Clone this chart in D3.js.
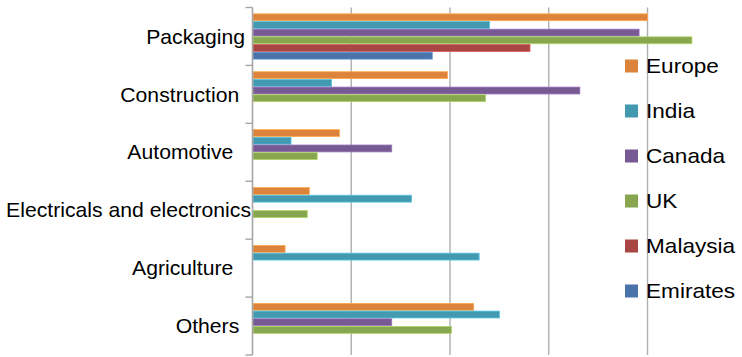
<!DOCTYPE html>
<html><head><meta charset="utf-8">
<script src="https://cdn.jsdelivr.net/npm/d3@7"></script>
<style>
html,body{margin:0;padding:0;background:#fff;}
svg{display:block;font-family:"Liberation Sans",Arial,sans-serif;}
text{white-space:pre;}
</style></head>
<body>
<script>
const categories = ["Packaging ", "Construction  ", "Automotive   ", "Electricals and electronics", "Agriculture   ", "Others  "];
const seriesNames = ["Europe", "India", "Canada", "UK", "Malaysia", "Emirates"];
const seriesColors = ["#DD843C", "#4299B0", "#775A93", "#88A64F", "#A84644", "#4A73AA"];
const Europe   = [80.0, 39.5, 17.6, 11.5, 6.6, 44.8];
const India    = [48.0, 16.0, 7.8, 32.2, 45.9, 50.0];
const Canada   = [78.3, 66.3, 28.2, null, null, 28.2];
const UK       = [89.0, 47.2, 13.1, 11.1, null, 40.3];
const Malaysia = [56.2, null, null, null, null, null];
const Emirates = [36.4, null, null, null, null, null];
const seriesValues = [Europe, India, Canada, UK, Malaysia, Emirates];
const xTicks = [0, 20, 40, 60, 80, 100];

const W = 742, H = 357;
const svg = d3.select("body").append("svg").attr("width", W).attr("height", H);

const x = d3.scaleLinear().domain([0, 100]).range([252.5, 746.25]);
const y = d3.scaleBand().domain(categories).range([7.5, 355]).paddingInner(0).paddingOuter(0);
const inner = d3.scaleBand().domain(seriesNames).range([0, y.bandwidth()]).paddingInner(0).paddingOuter(0.77);

// gridlines
svg.append("g").selectAll("line").data(xTicks.slice(1)).join("line")
  .attr("x1", d => x(d)).attr("x2", d => x(d))
  .attr("y1", 7.5).attr("y2", 355)
  .attr("stroke", "#AFAFAF").attr("stroke-width", 1.4);

// bars
const groups = svg.append("g").selectAll("g").data(categories).join("g")
  .attr("transform", d => `translate(0,${y(d)})`);
groups.each(function(cat, ci) {
  const g = d3.select(this);
  seriesNames.forEach((s, si) => {
    const v = seriesValues[si][ci];
    if (v == null) return;
    const c = d3.color(seriesColors[si]);
    g.append("rect")
      .attr("x", x(0) + 0.5)
      .attr("y", inner(s) + 0.4)
      .attr("width", x(v) - x(0) - 0.5)
      .attr("height", inner.bandwidth() - 0.8)
      .attr("fill", seriesColors[si])
      .attr("stroke", c.brighter(0.7).formatHex())
      .attr("stroke-width", 0.8);
  });
});

// left axis
const ax = svg.append("g");
ax.append("line").attr("x1", x(0)).attr("x2", x(0)).attr("y1", 7.5).attr("y2", 355)
  .attr("stroke", "#A6A6A6").attr("stroke-width", 1.6);
const bounds = categories.map(c => y(c)).concat([y.range()[1]]);
ax.selectAll("line.tk").data(bounds).join("line").attr("class", "tk")
  .attr("x1", x(0) - 7).attr("x2", x(0))
  .attr("y1", d => d).attr("y2", d => d)
  .attr("stroke", "#A6A6A6").attr("stroke-width", 1.4);
ax.selectAll("g.lbl").data(categories).join("g").attr("class", "lbl")
  .attr("transform", d => `translate(${x(0) - 1.5},${y(d) + y.bandwidth() / 2}) scale(1.06,1)`)
  .append("text")
  .attr("text-anchor", "end").attr("dy", "0.36em")
  .attr("font-size", 20).attr("fill", "#000")
  .text(d => d);

// legend
const leg = svg.append("g").attr("transform", "translate(625,66)");
const li = leg.selectAll("g").data(seriesNames).join("g")
  .attr("transform", (d, i) => `translate(0,${i * 45})`);
li.append("rect").attr("x", 0).attr("y", -6.5).attr("width", 13).attr("height", 13)
  .attr("fill", (d, i) => seriesColors[i]);
li.append("g").attr("transform", "translate(21,0) scale(1.13,1)")
  .append("text").attr("dy", "0.36em").attr("font-size", 20).attr("fill", "#000")
  .text(d => d);
</script>
</body></html>
